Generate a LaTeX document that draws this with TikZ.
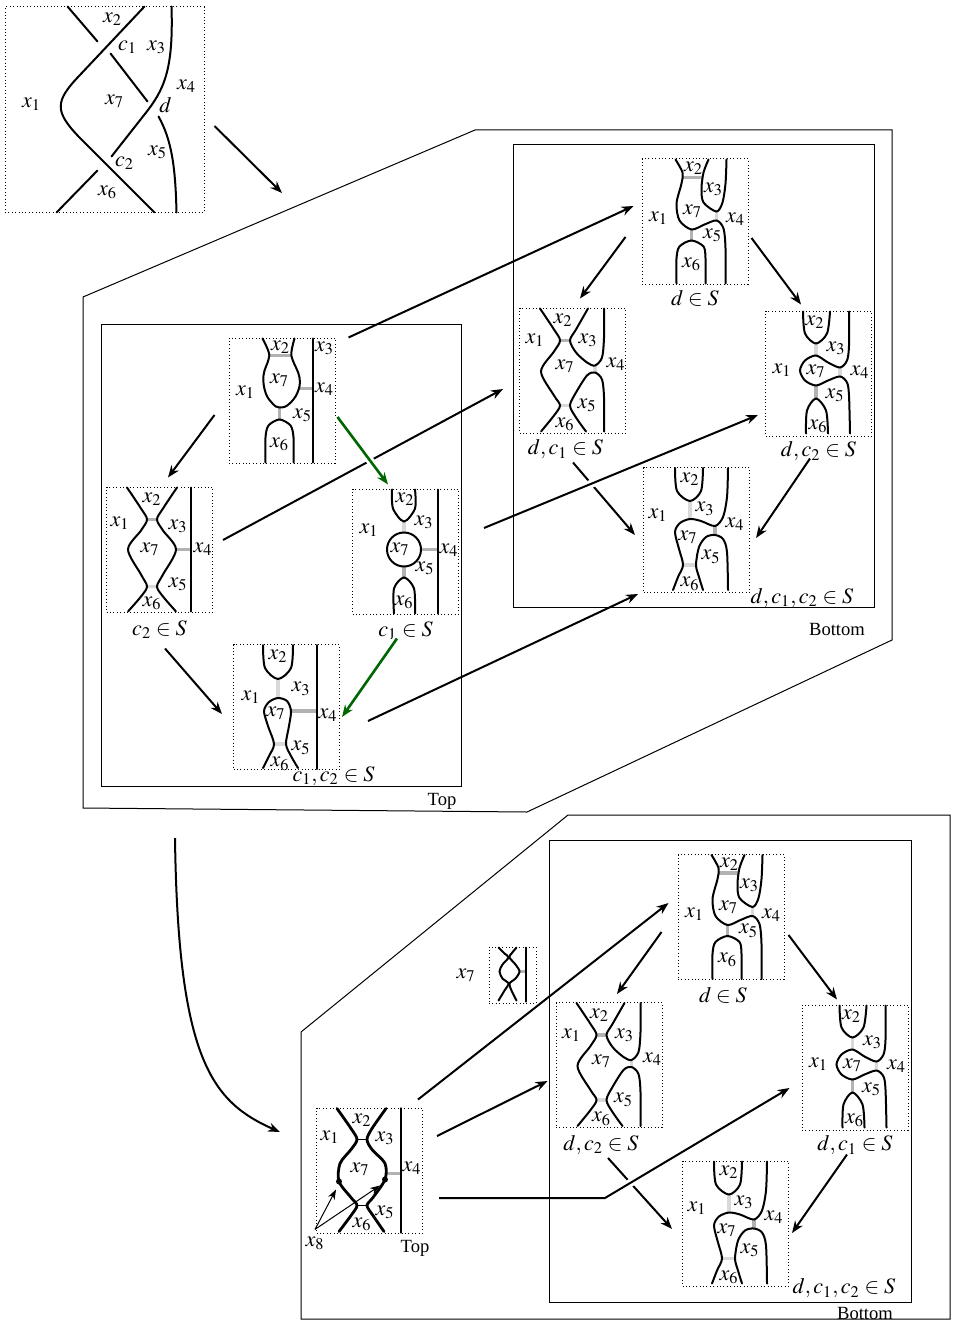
\documentclass[tikz,border=0pt]{standalone}
\usepackage{mathptmx}
\usepackage{fontspec}
\setmainfont{Liberation Serif}
\usepackage{tikz}
\usetikzlibrary{positioning,calc,arrows.meta}
\tikzstyle{strand} = [line width=1pt, line cap=round]
\tikzstyle{bold} = [line width=1.4pt, line cap=round]
\tikzstyle{rung} = [line width=1.6pt, gray!60]
\tikzstyle{faint} = [line width=1.6pt, gray!30]
\tikzstyle{panel} = [rectangle, draw, line width=0.5pt, dash pattern=on 0.45pt off 1.25pt, minimum width=53pt, minimum height=62.5pt, inner sep=0pt]
\tikzstyle{arrow} = [line width=1pt,->,>={Stealth[length=6pt,width=4.6pt]}]
\tikzstyle{greenarrow} = [arrow, line width=1.3pt, color=green!40!black, preaction={draw=white,line width=4pt,arrows=-,shorten >=8pt}]
\tikzstyle{gap} = [preaction={draw=white,line width=4pt,arrows=-,shorten >=8pt}]
\tikzstyle{thin} = [line width=0.5pt,->,>={Stealth[length=5pt,width=3.6pt]}]
\tikzstyle{frame} = [line width=0.5pt]
\tikzstyle{tag} = [font=\fontsize{9.3}{11}\selectfont]
\tikzstyle{every node}=[font=\fontsize{11}{13}\selectfont]
\tikzset{
  knot/.pic={
    \draw[strand] (63,0) -- (93,35);
    \draw[strand] (106,47) -- (143,95);
    \draw[strand] (154,110) .. controls (167,133) and (171,160) .. (172,206);
    \draw[strand] (140,0) -- (75,69) .. controls (50,95) and (50,105) .. (75,131) -- (150,206);
    \draw[strand] (167,0) .. controls (169,63) and (160,83) .. (140,108) -- (107,150);
    \draw[strand] (93,164) -- (52,206);
    \node at (108,13) {$x_2$};
    \node at (123,41) {$c_1$};
    \node at (152,41) {$x_3$};
    \node at (182,80) {$x_4$};
    \node at (27,98) {$x_1$};
    \node at (110,95) {$x_7$};
    \node at (161,99) {$d$};
    \node at (153,146) {$x_5$};
    \node at (120,157) {$c_2$};
    \node at (103,186) {$x_6$};
  },
  plain/.pic={
    \draw[rung] (41,18) -- (63,18);
    \draw[rung] (71,51) -- (84,51);
    \draw[rung] (51,70) -- (51,82);
    \draw[strand] plot[smooth,tension=.7] coordinates {(34,1) (40,14) (40,22) (35,38) (37,55) (44,66) (51,70) (60,67) (69,55) (71,40) (64,22) (63,14) (66,1)};
    \draw[strand] plot[smooth] coordinates {(37,125) (37,100) (40,88) (51,82) (62,88) (65,100) (65,125)};
    \draw[strand] (84,1) -- (84,125);
    \node at (52,10) {$x_2$};
    \node at (96,11) {$x_3$};
    \node at (51,43) {$x_7$};
    \node at (17,55) {$x_1$};
    \node at (96,52) {$x_4$};
    \node at (74,78) {$x_5$};
    \node at (51,107) {$x_6$};
  },
  cTwo/.pic={
    \draw[rung] (41,33) -- (51,33);
    \draw[faint] (41,100) -- (51,100);
    \draw[rung] (70,63) -- (85,63);
    \draw[strand] plot[smooth] coordinates {(21,1) (35,22) (41,33) (35,44) (22,63) (35,88) (41,100) (35,110) (22,125)};
    \draw[strand] plot[smooth] coordinates {(71,1) (57,22) (51,33) (57,44) (70,63) (57,88) (51,100) (57,110) (70,125)};
    \draw[strand] (85,1) -- (85,125);
    \node at (46,13) {$x_2$};
    \node at (14,37) {$x_1$};
    \node at (72,40) {$x_3$};
    \node at (44,63) {$x_7$};
    \node at (97,63) {$x_4$};
    \node at (72,98) {$x_5$};
    \node at (46,117) {$x_6$};
  },
  cOne/.pic={
    \draw[faint] (52,33) -- (52,44);
    \draw[rung] (69,61) -- (86,61);
    \draw[rung] (52,78) -- (52,89);
    \draw[strand] plot[smooth] coordinates {(40,1) (41,20) (52,33) (63,20) (63,1)};
    \draw[strand] (52,61) circle[radius=17];
    \draw[strand] plot[smooth] coordinates {(42,125) (42,100) (52,89) (62,100) (63,125)};
    \draw[strand] (86,1) -- (86,125);
    \node at (53,11) {$x_2$};
    \node at (72,34) {$x_3$};
    \node at (17,42) {$x_1$};
    \node at (48,61) {$x_7$};
    \node at (97,62) {$x_4$};
    \node at (73,80) {$x_5$};
    \node at (52,114) {$x_6$};
  },
  cBoth/.pic={
    \draw[faint] (45,35) -- (45,54);
    \draw[faint] (41,100) -- (53,100);
    \draw[rung] (58,67) -- (84,67);
    \draw[strand] plot[smooth] coordinates {(30,1) (32,24) (45,35) (58,24) (60,1)};
    \draw[strand] plot[smooth] coordinates {(30,124) (36,112) (41,100) (35,82) (31,67) (36,58) (45,54) (54,57) (58,67) (56,82) (53,100) (58,112) (65,124)};
    \draw[strand] (84,1) -- (84,125);
    \node at (45,12) {$x_2$};
    \node at (68,45) {$x_3$};
    \node at (18,53) {$x_1$};
    \node at (43,69) {$x_7$};
    \node at (95,71) {$x_4$};
    \node at (68,104) {$x_5$};
    \node at (47,120) {$x_6$};
  },
  dOnly/.pic={
    \draw[rung] (41,19) -- (61,19);
    \draw[faint] (75,53) -- (75,62);
    \draw[rung] (50,71) -- (50,82);
    \draw[strand] plot[smooth] coordinates {(34,1) (41,14) (40,25) (35,45) (38,62) (50,71) (63,66) (75,62) (82,70) (84,90) (84,125)};
    \draw[strand] plot[smooth] coordinates {(67,1) (62,14) (60,30) (62,44) (75,53) (81,44) (84,25) (85,1)};
    \draw[strand] plot[smooth] coordinates {(35,125) (35,100) (38,88) (50,82) (62,88) (64,100) (64,125)};
    \node at (52,10) {$x_2$};
    \node at (72,31) {$x_3$};
    \node at (51,53) {$x_7$};
    \node at (17,60) {$x_1$};
    \node at (94,61) {$x_4$};
    \node at (71,77) {$x_5$};
    \node at (50,106) {$x_6$};
  },
  dcOne/.pic={
    \draw[rung] (41,33) -- (51,33);
    \draw[faint] (41,98) -- (51,98);
    \draw[faint] (76,58) -- (76,65);
    \draw[strand] plot[smooth] coordinates {(21,1) (35,22) (41,33) (35,44) (22,64) (35,88) (41,98) (35,108) (22,124)};
    \draw[strand] plot[smooth] coordinates {(69,1) (57,22) (51,33) (57,45) (68,55) (76,58) (83,50) (85,30) (85,1)};
    \draw[strand] plot[smooth] coordinates {(67,124) (57,110) (51,98) (57,85) (68,68) (76,65) (83,72) (85,90) (85,124)};
    \node at (44,13) {$x_2$};
    \node at (16,33) {$x_1$};
    \node at (69,33) {$x_3$};
    \node at (46,59) {$x_7$};
    \node at (97,57) {$x_4$};
    \node at (68,98) {$x_5$};
    \node at (46,117) {$x_6$};
  },
  dcTwo/.pic={
    \draw[faint] (51,33) -- (51,45);
    \draw[faint] (75,57) -- (75,66);
    \draw[rung] (51,75) -- (51,88);
    \draw[strand] plot[smooth] coordinates {(38,1) (40,23) (51,33) (62,23) (65,1)};
    \draw[strand] plot[smooth] coordinates {(84,1) (84,35) (82,50) (75,57) (63,52) (51,45) (40,50) (35,60) (40,70) (51,75) (63,70) (75,66) (82,72) (84,85) (85,123)};
    \draw[strand] plot[smooth] coordinates {(41,123) (42,100) (51,88) (61,100) (63,123)};
    \node at (50,12) {$x_2$};
    \node at (71,38) {$x_3$};
    \node at (17,60) {$x_1$};
    \node at (51,61) {$x_7$};
    \node at (95,62) {$x_4$};
    \node at (70,85) {$x_5$};
    \node at (53,116) {$x_6$};
  },
  dAll/.pic={
    \draw[faint] (47,34) -- (47,52);
    \draw[rung] (72,59) -- (72,68);
    \draw[faint] (40,98) -- (53,98);
    \draw[strand] plot[smooth] coordinates {(32,1) (34,24) (47,34) (58,24) (60,1)};
    \draw[strand] plot[smooth] coordinates {(85,1) (84,30) (80,50) (72,59) (58,54) (47,52) (37,56) (32,65) (36,82) (40,98) (35,110) (30,123)};
    \draw[strand] plot[smooth] coordinates {(60,123) (56,110) (53,98) (56,80) (63,70) (72,68) (80,72) (84,85) (85,123)};
    \node at (47,12) {$x_2$};
    \node at (62,42) {$x_3$};
    \node at (15,48) {$x_1$};
    \node at (92,57) {$x_4$};
    \node at (45,70) {$x_7$};
    \node at (68,90) {$x_5$};
    \node at (47,117) {$x_6$};
  },
  split/.pic={
    \draw[line width=0.6pt] (41,32) -- (51,32);
    \draw[line width=0.6pt] (41,98) -- (51,98);
    \draw[rung] (70,66) -- (85,66);
    \draw[bold] plot[smooth] coordinates {(21,1) (35,21) (41,32) (35,42) (24,56) (23,74) (35,90) (41,98) (35,108) (23,124)};
    \draw[bold] plot[smooth] coordinates {(70,1) (56,21) (51,32) (56,42) (69,56) (69,72) (57,90) (51,98) (57,108) (68,124)};
    \draw[bold] (85,1) -- (85,125);
    \fill (23,74) circle[radius=3];
    \fill (69,72) circle[radius=3];
    \node at (46,13) {$x_2$};
    \node at (14,30) {$x_1$};
    \node at (69,31) {$x_3$};
    \node at (44,62) {$x_7$};
    \node at (96,61) {$x_4$};
    \node at (69,105) {$x_5$};
    \node at (46,117) {$x_6$};
  },
  mini/.pic={
    \draw[rung] (31,25) -- (37,25);
    \draw[strand] plot[smooth] coordinates {(10,1) (16,7) (20,11) (14,18) (11,25) (14,32) (20,37) (16,44) (10,54)};
    \draw[strand] plot[smooth] coordinates {(28,1) (23,7) (21,11) (27,18) (31,25) (27,32) (21,37) (23,44) (28,54)};
    \draw[strand] (37,1) -- (37,55);
  },
}

\begin{document}
\begin{tikzpicture}[x=0.5pt,y=-0.5pt]
	\useasboundingbox (0,0) rectangle (958,1321);
	% the knot
	\node (p0) [panel, minimum width=99.5pt, minimum height=103pt] at (104.5,110) {};
	\pic at (p0.north west) {knot};
	\coordinate (kend) at (282,193);
	\draw [arrow] ($(p0.east)+(10,16)$) -- (kend);
	% top part
	\node (t1) [panel] at (282,400.5) {};
	\node (t2) [panel] at (159.5,549.5) {};
	\node (t3) [panel] at (405.5,551.5) {};
	\node (t4) [panel] at (286.5,707) {};
	\pic at (t1.north west) {plain};
	\pic at (t2.north west) {cTwo};
	\pic at (t3.north west) {cOne};
	\pic at (t4.north west) {cBoth};
	\node (lt2) [below=0.5pt of t2] {$c_2\in S$};
	\node (lt3) [below=0pt of t3] {$c_1\in S$};
	\node (lt4) at ($(t4.south)+(47,6)$) {$c_1,c_2\in S$};
	% bottom part
	\node (b1) [panel] at (695,221.5) {};
	\node (b2) [panel] at (572.5,370.5) {};
	\node (b3) [panel] at (818.5,373.5) {};
	\node (b4) [panel] at (696.5,530) {};
	\pic at (b1.north west) {dOnly};
	\pic at (b2.north west) {dcOne};
	\pic at (b3.north west) {dcTwo};
	\pic at (b4.north west) {dAll};
	\node (lb1) [below=-0.5pt of b1] {$d\in S$};
	\node (lb2) [below=-0.5pt of b2, xshift=-3.5pt] {$d,c_1\in S$};
	\node (lb3) [below=-1pt of b3] {$d,c_2\in S$};
	\node (lb4) at ($(b4.south east)+(52,5)$) {$d,c_1,c_2\in S$};
	\node (top1) [tag] at (442,801) {Top};
	\node (bot1) [tag] at (837,629) {Bottom};
	\draw [arrow] ($(t1.west)+(-14,14.5)$) -- ($(t2.north)+(8.5,-9)$);
	\draw [arrow] ($(t2.south)+(5.5,36)$) -- ($(t4.west)+(-11,7)$);
	\draw [arrow] ($(t1.north east)+(13,0)$) -- ($(b1.west)+(-8,-15.5)$);
	\draw [arrow] ($(t2.east)+(10,-9.5)$) -- ($(b2.west)+(-16,18.5)$);
	\draw [arrow] ($(t4.east)+(28,14)$) -- ($(b4.south west)+(-5,1)$);
	\draw [arrow] ($(b1.west)+(-16,15.5)$) -- ($(b2.north)+(7.5,-9)$);
	\draw [arrow] ($(b1.east)+(3,16.5)$) -- ($(b3.north)+(-17.5,-6)$);
	\draw [arrow] ($(b2.south)+(0.5,29)$) -- ($(b4.west)+(-8,5)$);
	\draw [arrow] ($(b3.south)+(-8.5,22)$) -- ($(b4.east)+(6,8)$);
	\draw [arrow, gap] ($(t3.east)+(25,-23.5)$) -- ($(b3.west)+(-7,41.5)$);
	\draw [greenarrow] ($(t1.east)+(2,16.5)$) -- ($(t3.north)+(-17.5,-4)$);
	\draw [greenarrow] ($(t3.south)+(-8.5,24)$) -- ($(t4.east)+(2,10)$);
	\draw [frame] (101,324) rectangle (461,786);
	\draw [frame] (513,145) rectangle (874,607);
	\draw [frame] (83,297) -- (475,130) -- (892,130) -- (892,640) -- (527,812) -- (83,808) -- cycle;
	% lower part
	\coordinate (cstart) at (175,838);
	\node (l0) [panel] at (369.5,1170.5) {};
	\pic at (l0.north west) {split};
	\node (s7) [panel, minimum width=23.5pt, minimum height=28pt] at (512.5,975) {};
	\pic at (s7.north west) {mini};
	\node (x7) [left=3pt of s7] {$x_7$};
	\node (x8) at (315,1243) {$x_8$};
	\node (top2) [tag] at (415,1248) {Top};
	\draw [arrow] (cstart) .. controls (178,1060) and (212,1102) .. ($(l0.west)+(-36,-38.5)$);
	\draw [thin] (x8.north) -- ($(l0.north west)+(20,82)$);
	\draw [thin] (x8.north) -- ($(l0.north west)+(64,78)$);
	\node (e1) [panel] at (731,917) {};
	\node (e2) [panel] at (609,1065) {};
	\node (e3) [panel] at (855,1067.5) {};
	\node (e4) [panel] at (735.5,1223.5) {};
	\pic at (e1.north west) {dOnly};
	\pic at (e2.north west) {dcOne};
	\pic at (e3.north west) {dcTwo};
	\pic at (e4.north west) {dAll};
	\node (le1) [below=0pt of e1, xshift=-4pt] {$d\in S$};
	\node (le2) [below=0pt of e2, xshift=-4pt] {$d,c_2\in S$};
	\node (le3) [below=-1pt of e3] {$d,c_1\in S$};
	\node (le4) at ($(e4.south east)+(55,2)$) {$d,c_1,c_2\in S$};
	\node (bot2) [tag] at (865,1313) {Bottom};
	\draw [arrow] ($(l0.north east)+(-5,-8)$) -- ($(e1.west)+(-9,-14)$);
	\draw [arrow] ($(l0.east)+(14,-34.5)$) -- ($(e2.west)+(-8,16)$);
	\draw [arrow] ($(e1.west)+(-16,15)$) -- ($(e2.north)+(8,-8)$);
	\draw [arrow] ($(e1.east)+(4,18)$) -- ($(e3.north)+(-18,-5)$);
	\draw [arrow] ($(e2.south)+(-1,30)$) -- ($(e4.west)+(-10,5.5)$);
	\draw [arrow] ($(e3.south)+(-8,24)$) -- ($(e4.east)+(3,9.5)$);
	\draw [arrow, gap] ($(l0.east)+(16,27.5)$) -- ++(166,0) -- ($(e3.west)+(-12,20.5)$);
	\draw [frame] (549,840) rectangle (911,1302);
	\draw [frame] (301,1032) -- (568,815) -- (950,815) -- (950,1319) -- (301,1319) -- cycle;
\end{tikzpicture}
\end{document}
